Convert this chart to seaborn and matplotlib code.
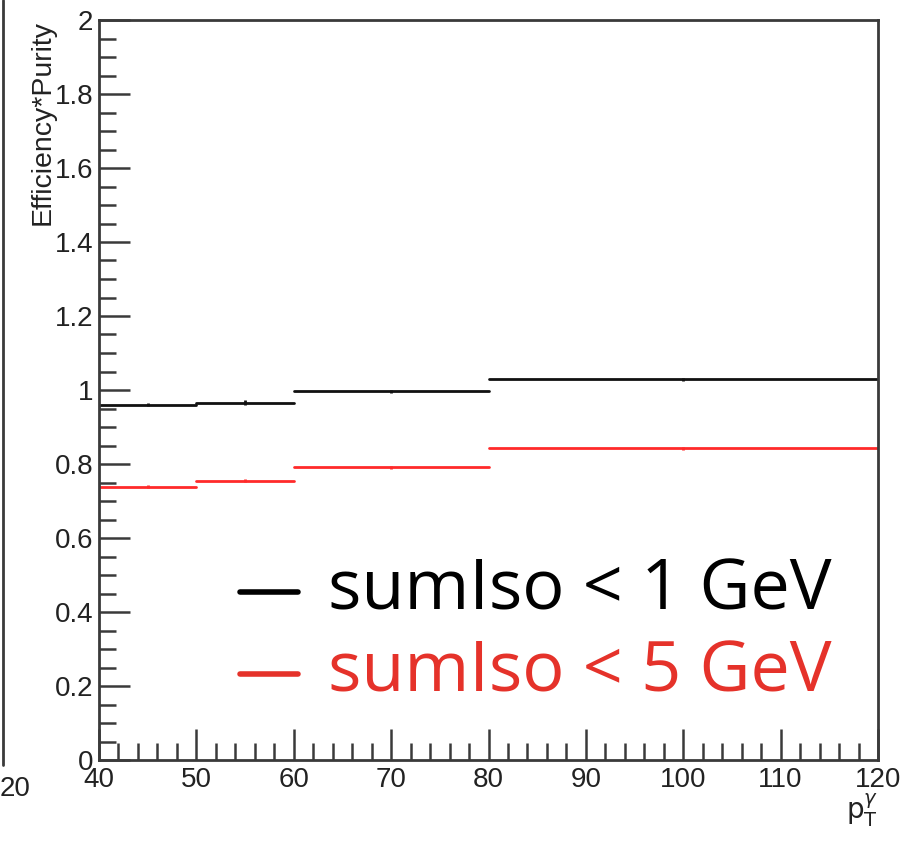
import numpy as np
import pandas as pd
import matplotlib
matplotlib.use("Agg")
import matplotlib.pyplot as plt
from matplotlib.ticker import MultipleLocator, FixedLocator
from matplotlib.lines import Line2D
import seaborn as sns

# Binning in photon pT (GeV)
bin_lo = [40, 50, 60, 80]
bin_hi = [50, 60, 80, 120]

# Efficiency*Purity per bin for the two isolation cuts
eff_iso1 = [0.960, 0.966, 0.996, 1.029]
eff_iso5 = [0.739, 0.755, 0.791, 0.842]
err_iso1 = [0.004, 0.006, 0.004, 0.004]
err_iso5 = [0.003, 0.004, 0.004, 0.003]

series_names = ["sumIso < 1 GeV", "sumIso < 5 GeV"]
line_colors = {"sumIso < 1 GeV": "#111111", "sumIso < 5 GeV": "#ff2a2a"}
legend_colors = ["#000000", "#e5322a"]

x_ticks = [40, 50, 60, 70, 80, 90, 100, 110, 120]
y_ticks = [0, 0.2, 0.4, 0.6, 0.8, 1, 1.2, 1.4, 1.6, 1.8, 2]
y_tick_labels = ["0", "0.2", "0.4", "0.6", "0.8", "1", "1.2", "1.4", "1.6", "1.8", "2"]

# Long table: each bin is one horizontal segment (two points sharing a unit id)
rows = []
for name, vals in zip(series_names, [eff_iso1, eff_iso5]):
    for i, (lo, hi, v) in enumerate(zip(bin_lo, bin_hi, vals)):
        rows.append({"series": name, "bin": i, "pt": lo, "eff": v})
        rows.append({"series": name, "bin": i, "pt": hi, "eff": v})
df = pd.DataFrame(rows)

sns.set_theme(style="white")
plt.rcParams["font.family"] = ["Liberation Sans", "DejaVu Sans"]

W, H = 908, 841
fig = plt.figure(figsize=(W / 100, H / 100), dpi=100)
ax = fig.add_axes([99 / W, 1 - 760 / H, (878 - 99) / W, (760 - 20) / H])

sns.lineplot(data=df, x="pt", y="eff", hue="series", units="bin",
             estimator=None, palette=line_colors, ax=ax, legend=False,
             linewidth=2.0)
for name, vals, errs in zip(series_names, [eff_iso1, eff_iso5], [err_iso1, err_iso5]):
    centers = [(lo + hi) / 2 for lo, hi in zip(bin_lo, bin_hi)]
    ax.errorbar(centers, vals, yerr=errs, fmt="none", ecolor=line_colors[name],
                elinewidth=2.0, capsize=0)

ax.set_xlim(40, 120)
ax.set_ylim(0, 2)
ax.set_xlabel("")
ax.set_ylabel("")

axis_col = "#3a3a3a"
for side in ["left", "bottom", "right", "top"]:
    ax.spines[side].set_visible(True)
    ax.spines[side].set_color(axis_col)
    ax.spines[side].set_linewidth(2.0)

ax.xaxis.set_major_locator(FixedLocator(x_ticks))
ax.xaxis.set_minor_locator(MultipleLocator(2))
ax.yaxis.set_major_locator(FixedLocator(y_ticks))
ax.yaxis.set_minor_locator(MultipleLocator(0.05))
ax.set_xticklabels([str(t) for t in x_ticks])
ax.set_yticklabels(y_tick_labels)
ax.tick_params(which="both", direction="in", color=axis_col, width=1.8,
               labelsize=20, labelcolor="#222222",
               bottom=True, left=True, top=False, right=False)
ax.tick_params(which="major", length=22)
ax.tick_params(which="minor", length=12)
ax.tick_params(axis="x", pad=5)
ax.tick_params(axis="y", pad=4)

ax.text(-0.073, 1.0, "Efficiency*Purity", transform=ax.transAxes, rotation=90,
        ha="center", va="top", fontsize=20.5, color="#222222")
ax.text(1.0, -0.068, r"$\mathrm{p}_{\mathrm{T}}^{\gamma}$", transform=ax.transAxes,
        ha="right", va="center", fontsize=20, color="#222222")

# Legend drawn as large coloured text with short dashes
leg_y = [592, 674]
for yy, name, col in zip(leg_y, series_names, legend_colors):
    fig.add_artist(Line2D([240 / W, 298 / W], [1 - yy / H, 1 - yy / H],
                          color=col, linewidth=4, transform=fig.transFigure))
    fig.text(328 / W, 1 - yy / H, name, color=col, fontsize=50.5,
             family=["Open Sans", "DejaVu Sans"], ha="left", va="center")

# Neighbouring panel edge at the left border
fig.add_artist(Line2D([2.5 / W, 2.5 / W], [1 - 0 / H, 1 - 765 / H],
                      color=axis_col, linewidth=2.0, transform=fig.transFigure))
fig.text(0 / W, 1 - 789 / H, "20", fontsize=20, color="#222222",
         ha="left", va="center")

fig.savefig("out.png", dpi=100)
